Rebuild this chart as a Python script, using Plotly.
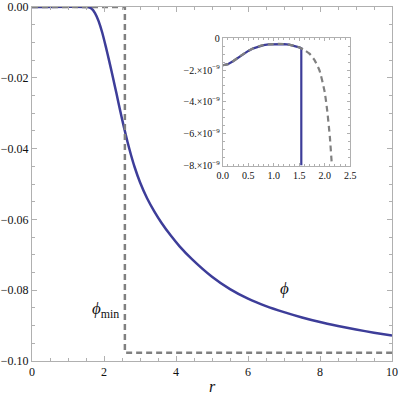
import plotly.graph_objects as go

# main curve phi(r)
r_phi = [0.0, 1.55, 1.65, 1.75, 1.85, 1.95, 2.05, 2.15, 2.25, 2.35, 2.45, 2.55,
         2.65, 2.75, 2.85, 3.0, 3.2, 3.4, 3.6, 3.85, 4.1, 4.45, 5.0, 5.5, 6.0,
         6.5, 7.0, 7.5, 8.0, 8.5, 9.0, 9.5, 10.0]
phi = [0.0, 0.0, -0.0004, -0.0017, -0.0040, -0.0072, -0.0112, -0.0155, -0.0200,
       -0.0246, -0.0293, -0.0338, -0.0380, -0.0418, -0.0452, -0.0495, -0.0541,
       -0.0578, -0.0610, -0.0645, -0.0676, -0.0713, -0.0762, -0.0797, -0.0824,
       -0.0845, -0.0862, -0.0877, -0.0890, -0.0901, -0.0911, -0.0920, -0.0928]

# step curve phi_min(r)
r_min = [0.0, 2.58, 2.58, 10.0]
phi_min = [0.0, 0.0, -0.0977, -0.0977]

# inset: small r region
r_in = [0.0, 0.1, 0.2, 0.3, 0.4, 0.5, 0.6, 0.7, 0.8, 0.9, 1.0, 1.1, 1.2, 1.3,
        1.4, 1.5, 1.6, 1.7, 1.8, 1.9, 2.0, 2.05, 2.1, 2.14]
phi_in = [-1.70e-9, -1.63e-9, -1.45e-9, -1.22e-9, -1.00e-9, -0.80e-9, -0.64e-9,
          -0.52e-9, -0.44e-9, -0.39e-9, -0.37e-9, -0.36e-9, -0.37e-9, -0.41e-9,
          -0.48e-9, -0.58e-9, -0.74e-9, -0.97e-9, -1.38e-9, -2.05e-9, -3.4e-9,
          -4.6e-9, -6.2e-9, -8.0e-9]
r_cut = 1.54
phi_cut = -0.63e-9

inset_ticks = [0, -2e-9, -4e-9, -6e-9, -8e-9]
inset_ticktext = ["0", "\u22122.\u00d710<sup>\u22129</sup>", "\u22124.\u00d710<sup>\u22129</sup>",
                  "\u22126.\u00d710<sup>\u22129</sup>", "\u22128.\u00d710<sup>\u22129</sup>"]
main_yticks = [0, -0.02, -0.04, -0.06, -0.08, -0.10]
main_yticktext = ["0.00", "\u22120.02", "\u22120.04", "\u22120.06", "\u22120.08", "\u22120.10"]

BLUE = "#3d3d99"
GRAY = "#808080"
FRAME = "#b0b0b0"
FONT = "Liberation Serif, Times New Roman, serif"

fig = go.Figure()

fig.add_trace(go.Scatter(x=r_phi, y=phi, mode="lines",
                         line=dict(color=BLUE, width=2.5, shape="spline", smoothing=0.5)))
fig.add_trace(go.Scatter(x=r_min, y=phi_min, mode="lines",
                         line=dict(color=GRAY, width=2.5, dash="6px,4px")))

# inset traces
blue_r = [v for v in r_in if v < r_cut] + [r_cut, r_cut]
blue_phi = [p for v, p in zip(r_in, phi_in) if v < r_cut] + [phi_cut, -8e-9]
fig.add_trace(go.Scatter(x=blue_r, y=blue_phi, mode="lines", xaxis="x2", yaxis="y2",
                         line=dict(color=BLUE, width=2.2)))
fig.add_trace(go.Scatter(x=r_in, y=phi_in, mode="lines", xaxis="x2", yaxis="y2",
                         line=dict(color=GRAY, width=2.2, dash="6px,4px",
                                   shape="spline", smoothing=0.5)))

axis_common = dict(showline=True, linecolor=FRAME, linewidth=1, mirror="ticks",
                   ticks="inside", tickcolor=FRAME, showgrid=False, zeroline=False,
                   automargin=False,
                   tickfont=dict(family=FONT, size=12, color="#111"))
inset_font = dict(family=FONT, size=10, color="#111")

fig.update_layout(
    width=399, height=398,
    margin=dict(l=32, r=7, t=7, b=37),
    plot_bgcolor="white", paper_bgcolor="white",
    showlegend=False,
    xaxis=dict(range=[0, 10], tickvals=[0, 2, 4, 6, 8, 10], ticklen=5,
               minor=dict(dtick=0.5, ticks="inside", ticklen=3, tickcolor=FRAME),
               title=dict(text="<i>r</i>", font=dict(family=FONT, size=16, color="#111"),
                          standoff=2),
               ticklabeloverflow="allow",
               **axis_common),
    yaxis=dict(range=[-0.1, 0], tickvals=main_yticks, ticktext=main_yticktext, ticklen=5,
               minor=dict(dtick=0.005, ticks="inside", ticklen=3, tickcolor=FRAME),
               ticklabeloverflow="allow",
               **axis_common),
    xaxis2=dict(domain=[0.530, 0.884], anchor="y2", range=[0, 2.5],
                tickvals=[0, 0.5, 1.0, 1.5, 2.0, 2.5],
                ticktext=["0.0", "0.5", "1.0", "1.5", "2.0", "2.5"], ticklen=3,
                minor=dict(dtick=0.1, ticks="inside", ticklen=2, tickcolor=FRAME),
                **{**axis_common, "tickfont": inset_font}),
    yaxis2=dict(domain=[0.552, 0.912], anchor="x2", range=[-8e-9, 0],
                tickvals=inset_ticks, ticktext=inset_ticktext, ticklen=3,
                minor=dict(dtick=0.5e-9, ticks="inside", ticklen=2, tickcolor=FRAME),
                **{**axis_common, "tickfont": inset_font}),
)

fig.add_annotation(x=2.47, y=-0.0856, xanchor="right", text="<i>\u03d5</i><sub>min</sub>",
                   showarrow=False, font=dict(family=FONT, size=17, color="#111"))
fig.add_annotation(x=7.0, y=-0.0795, text="<i>\u03d5</i>", showarrow=False,
                   font=dict(family=FONT, size=17, color="#111"))

# drop the default page margin so the figure sits at the window corner
fig.write_html("out.html", config={"displayModeBar": False},
               post_script="document.body.style.margin='0';")
